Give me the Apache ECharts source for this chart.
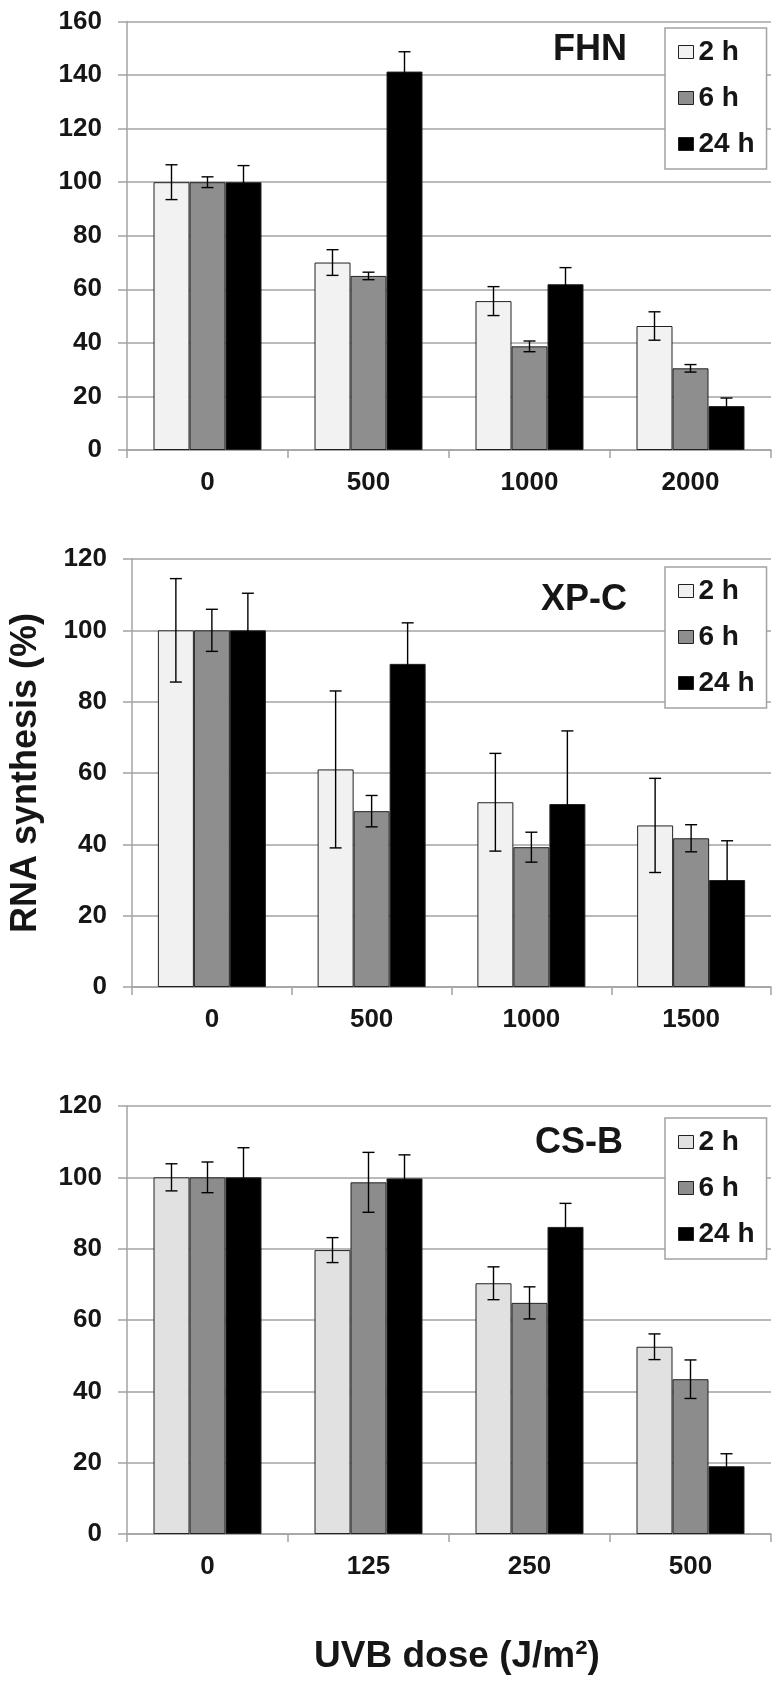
<!DOCTYPE html>
<html>
<head>
<meta charset="utf-8">
<script src="https://cdn.jsdelivr.net/npm/echarts@6/dist/echarts.min.js"></script>
<style>
html,body{margin:0;padding:0;background:#fff;}
#chart{width:779px;height:1685px;}
</style>
</head>
<body>
<div id="chart"></div>
<script>
// ---- data ----
const seriesNames = ['2 h', '6 h', '24 h'];
const panelTitles = ['FHN', 'XP-C', 'CS-B'];
const yAxisTitle = 'RNA synthesis (%)';
const xAxisTitle = 'UVB dose (J/m²)';

const fhnDoses = ['0', '500', '1000', '2000'];
const fhn2h  = [100, 70, 55.6, 46.3];
const fhn6h  = [100, 65, 38.7, 30.5];
const fhn24h = [100, 141.3, 61.9, 16.4];
const fhn2hErr  = [6.5, 4.8, 5.4, 5.3];
const fhn6hErr  = [2, 1.4, 2, 1.4];
const fhn24hErr = [6.2, 7.4, 6.2, 3];

const xpcDoses = ['0', '500', '1000', '1500'];
const xpc2h  = [100, 61, 51.8, 45.3];
const xpc6h  = [100, 49.3, 39.2, 41.7];
const xpc24h = [100, 90.6, 51.3, 30];
const xpc2hErr  = [14.5, 22, 13.7, 13.2];
const xpc6hErr  = [5.9, 4.4, 4.2, 3.8];
const xpc24hErr = [10.4, 11.5, 20.5, 11];

const csbDoses = ['0', '125', '250', '500'];
const csb2h  = [100, 79.6, 70.3, 52.5];
const csb6h  = [100, 98.6, 64.8, 43.4];
const csb24h = [100, 99.7, 86.1, 19];
const csb2hErr  = [3.8, 3.5, 4.6, 3.6];
const csb6hErr  = [4.3, 8.4, 4.5, 5.4];
const csb24hErr = [8.3, 6.6, 6.6, 3.5];

const yMax = [160, 120, 120];
const yInterval = 20;

// ---- styles ----
const FONT = '"Liberation Sans", Arial, Helvetica, sans-serif';
const TEXT = '#161616';
const GRIDC = '#a3a3a3';
const BAR_W = 36;
const panelColors = [
  ['#f2f2f2', '#8e8e8e', '#000000'],
  ['#f1f1f1', '#8e8e8e', '#000000'],
  ['#e1e1e1', '#8c8c8c', '#000000']
];
const grids = [
  {left: 127, right: 8, top: 21.5, height: 428.5},
  {left: 127, right: 8, top: 559, height: 428},
  {left: 127, right: 8, top: 1106, height: 428}
];

const panels = [
  {doses: fhnDoses, vals: [fhn2h, fhn6h, fhn24h], errs: [fhn2hErr, fhn6hErr, fhn24hErr]},
  {doses: xpcDoses, vals: [xpc2h, xpc6h, xpc24h], errs: [xpc2hErr, xpc6hErr, xpc24hErr]},
  {doses: csbDoses, vals: [csb2h, csb6h, csb24h], errs: [csb2hErr, csb6hErr, csb24hErr]}
];

function errRender(si) {
  return function (params, api) {
    const x = api.value(0), v = api.value(1), e = api.value(2);
    const hi = api.coord([x, v + e]);
    const lo = api.coord([x, v - e]);
    const cx = hi[0] + (si - 1) * BAR_W;
    const half = 6;
    const st = {stroke: '#000', lineWidth: 1.4};
    return {
      type: 'group',
      children: [
        {type: 'line', shape: {x1: cx, y1: hi[1], x2: cx, y2: lo[1]}, style: st},
        {type: 'line', shape: {x1: cx - half, y1: hi[1], x2: cx + half, y2: hi[1]}, style: st},
        {type: 'line', shape: {x1: cx - half, y1: lo[1], x2: cx + half, y2: lo[1]}, style: st}
      ]
    };
  };
}

const xAxes = [], yAxes = [], series = [], legends = [], titles = [];
const titleTops = [32, 582, 1125];
const titleRights = [152, 152, 156];
const legendTops = [28, 567, 1118];

panels.forEach((p, gi) => {
  xAxes.push({
    type: 'category', gridIndex: gi, data: p.doses,
    axisLine: {lineStyle: {color: GRIDC, width: 1.5}},
    axisTick: {show: true, interval: 0, length: 8, lineStyle: {color: GRIDC, width: 1.5}},
    axisLabel: {color: TEXT, fontSize: 26, fontWeight: 'bold', fontFamily: FONT, margin: 20, interval: 0},
    name: gi === 2 ? xAxisTitle : '',
    nameLocation: 'middle', nameGap: 104,
    nameTextStyle: {color: TEXT, fontSize: 37, fontWeight: 'bold', fontFamily: FONT, padding: [0, 0, 0, 16]}
  });
  yAxes.push({
    type: 'value', gridIndex: gi, min: 0, max: yMax[gi], interval: yInterval,
    axisLine: {show: true, lineStyle: {color: GRIDC, width: 1.5}},
    axisTick: {show: true, length: 9, lineStyle: {color: GRIDC, width: 1.5}},
    splitLine: {show: true, lineStyle: {color: GRIDC, width: 1.5}},
    axisLabel: {color: TEXT, fontSize: 26, fontWeight: 'bold', fontFamily: FONT, margin: 25},
    name: gi === 1 ? yAxisTitle : '',
    nameLocation: 'middle', nameGap: 88, nameRotate: 90,
    nameTextStyle: {color: TEXT, fontSize: 36, fontWeight: 'bold', fontFamily: FONT}
  });
  seriesNames.forEach((nm, si) => {
    series.push({
      type: 'bar', name: nm, xAxisIndex: gi, yAxisIndex: gi,
      data: p.vals[si], barWidth: BAR_W, barGap: '0%',
      itemStyle: {color: panelColors[gi][si], borderColor: '#222', borderWidth: 1},
      emphasis: {disabled: true}, animation: false
    });
  });
  seriesNames.forEach((nm, si) => {
    series.push({
      type: 'custom', name: nm + ' error', xAxisIndex: gi, yAxisIndex: gi,
      renderItem: errRender(si), z: 10, silent: true, animation: false,
      encode: {x: 0, y: 1},
      data: p.vals[si].map((v, i) => [i, v, p.errs[si][i]])
    });
  });
  legends.push({
    orient: 'vertical', left: 665, top: legendTops[gi],
    backgroundColor: '#fff', borderColor: GRIDC, borderWidth: 1.5,
    padding: [10, 12, 11, 13], itemGap: 18, itemWidth: 15, itemHeight: 13,
    selectedMode: false,
    textStyle: {color: TEXT, fontSize: 28, fontWeight: 'bold', fontFamily: FONT},
    data: seriesNames.map((nm, si) => ({
      name: nm, icon: 'rect',
      itemStyle: {color: panelColors[gi][si], borderColor: '#222', borderWidth: 1}
    }))
  });
  titles.push({
    text: panelTitles[gi], right: titleRights[gi], top: titleTops[gi], padding: 0,
    textStyle: {color: TEXT, fontSize: 36, fontWeight: 'bold', fontFamily: FONT}
  });
});

const chart = echarts.init(document.getElementById('chart'), null, {renderer: 'canvas'});
chart.setOption({
  backgroundColor: '#fff',
  animation: false,
  title: titles,
  legend: legends,
  grid: grids,
  xAxis: xAxes,
  yAxis: yAxes,
  series: series
});
</script>
</body>
</html>
